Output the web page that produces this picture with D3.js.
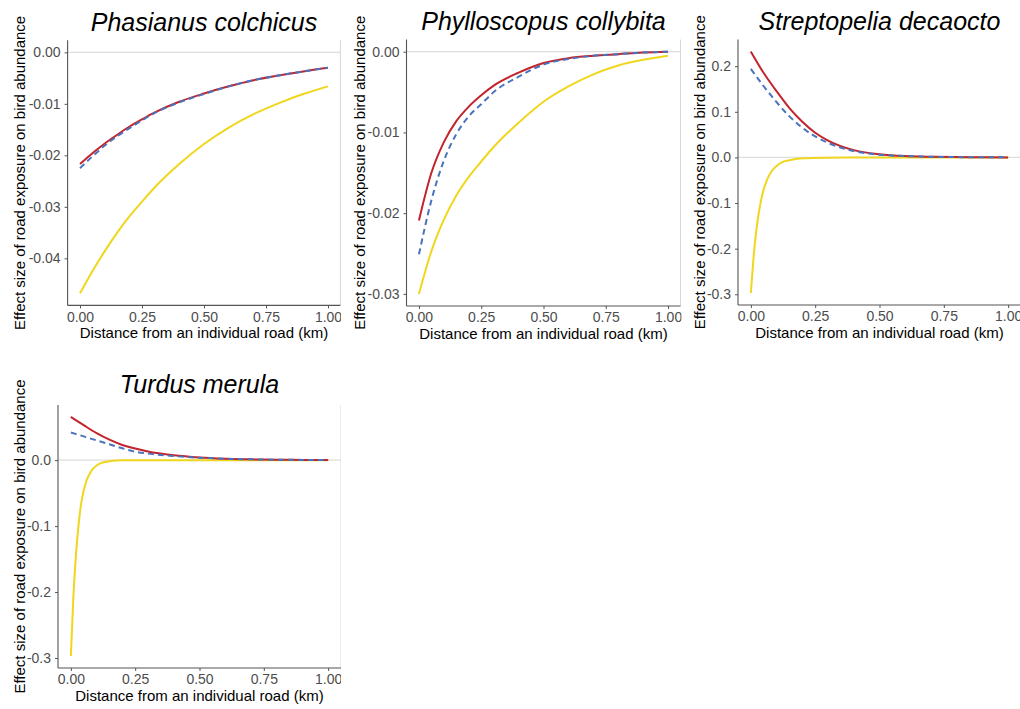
<!DOCTYPE html>
<html>
<head>
<meta charset="utf-8">
<script src="https://cdn.jsdelivr.net/npm/d3@7"></script>
<style>
  html, body { margin: 0; padding: 0; background: #ffffff; }
  svg { display: block; }
</style>
</head>
<body>
<svg id="chart" width="1020" height="709"></svg>
<script>
// ---------------- DATA ----------------
const speciesNames = ["Phasianus colchicus", "Phylloscopus collybita", "Streptopelia decaocto", "Turdus merula"];

// distances (km) at which values were read
const distance = [0, 0.05, 0.1, 0.15, 0.2, 0.25, 0.3, 0.4, 0.5, 0.6, 0.7, 0.8, 0.9, 1.0];
const distanceFine = [0, 0.01, 0.02, 0.03, 0.04, 0.05, 0.06, 0.08, 0.1, 0.12, 0.15, 0.2, 0.25, 0.3, 0.4, 0.5, 0.75, 1.0];

// Phasianus colchicus
const phasRed    = [-0.0217, -0.0196, -0.0177, -0.0160, -0.0144, -0.0130, -0.0117, -0.0096, -0.0080, -0.0066, -0.0054, -0.0045, -0.0037, -0.0030];
const phasBlue   = [-0.0225, -0.0202, -0.0181, -0.0163, -0.0147, -0.0132, -0.0118, -0.0097, -0.0081, -0.0066, -0.0054, -0.0045, -0.0037, -0.0030];
const phasYellow = [-0.0468, -0.0425, -0.0386, -0.0350, -0.0318, -0.0290, -0.0263, -0.0217, -0.0178, -0.0146, -0.0120, -0.0099, -0.0081, -0.0066];

// Phylloscopus collybita
const phylRed    = [-0.0209, -0.0150, -0.0112, -0.0086, -0.0068, -0.0054, -0.0042, -0.0026, -0.0014, -0.0008, -0.0005, -0.0003, -0.0001, 0.0000];
const phylBlue   = [-0.0251, -0.0184, -0.0135, -0.0102, -0.0080, -0.0065, -0.0050, -0.0031, -0.0016, -0.0009, -0.0005, -0.0003, -0.0001, 0.0000];
const phylYellow = [-0.0300, -0.0247, -0.0208, -0.0178, -0.0155, -0.0136, -0.0118, -0.0088, -0.0062, -0.0043, -0.0028, -0.0017, -0.0010, -0.0005];

// Streptopelia decaocto
const strepRed    = [0.232, 0.185, 0.145, 0.108, 0.078, 0.054, 0.037, 0.016, 0.007, 0.003, 0.0015, 0.0007, 0.0003, 0.0001];
const strepBlue   = [0.194, 0.156, 0.121, 0.090, 0.065, 0.046, 0.032, 0.014, 0.006, 0.003, 0.0015, 0.0007, 0.0003, 0.0001];
const strepYellow = [-0.297, -0.222, -0.166, -0.124, -0.093, -0.070, -0.053, -0.031, -0.019, -0.011, -0.006, -0.002, -0.001, -0.0005, -0.0002, 0, 0, 0];

// Turdus merula
const turdRed    = [0.0655, 0.053, 0.041, 0.031, 0.023, 0.0177, 0.013, 0.0073, 0.0040, 0.0022, 0.0012, 0.0007, 0.0004, 0.0002];
const turdBlue   = [0.042, 0.036, 0.030, 0.024, 0.018, 0.0128, 0.0099, 0.0062, 0.0037, 0.0022, 0.0012, 0.0007, 0.0004, 0.0002];
const turdYellow = [-0.297, -0.205, -0.142, -0.098, -0.066, -0.046, -0.032, -0.016, -0.008, -0.004, -0.0015, -0.0003, -0.0001, 0, 0, 0, 0, 0];

// tick labels
const xTicks = [0, 0.25, 0.5, 0.75, 1.0];
const phasYTicks  = [0, -0.01, -0.02, -0.03, -0.04];
const phylYTicks  = [0, -0.01, -0.02, -0.03];
const strepYTicks = [0.2, 0.1, 0, -0.1, -0.2, -0.3];
const turdYTicks  = [0, -0.1, -0.2, -0.3];

const xLabel = "Distance from an individual road (km)";
const yLabel = "Effect size of road exposure on bird abundance";

// ---------------- STYLE / LAYOUT ----------------
const colRed = "#c3242b", colBlue = "#4a73bb", colYellow = "#f0d61c";
const locale = d3.formatLocale({decimal: ".", thousands: ",", grouping: [3], currency: ["", ""], minus: "-"});

const panels = [
  {title: speciesNames[0], red: phasRed, blue: phasBlue, yellow: phasYellow, yX: distance, yTicks: phasYTicks, fmt: ".2f",
   x0: 67.6, x1: 340.4, y0: 40.3, y1: 305.4, clipL: 0, clipR: 341, yLabX: 25, titleY: 30.5},
  {title: speciesNames[1], red: phylRed, blue: phylBlue, yellow: phylYellow, yX: distance, yTicks: phylYTicks, fmt: ".2f",
   x0: 406.5, x1: 680.5, y0: 39.6, y1: 306, clipL: 341, clipR: 681.5, yLabX: 365, titleY: 29.5},
  {title: speciesNames[2], red: strepRed, blue: strepBlue, yellow: strepYellow, yX: distanceFine, yTicks: strepYTicks, fmt: ".1f",
   x0: 738, x1: 1021, y0: 39.5, y1: 305, clipL: 681.5, clipR: 1020, yLabX: 705, titleY: 29.5},
  {title: speciesNames[3], red: turdRed, blue: turdBlue, yellow: turdYellow, yX: distanceFine, yTicks: turdYTicks, fmt: ".1f",
   x0: 58, x1: 341, y0: 405, y1: 668, clipL: 0, clipR: 341, yLabX: 25, titleY: 393.3}
];

const svg = d3.select("#chart");
const font = "'Liberation Sans', Arial, sans-serif";

panels.forEach((p, i) => {
  const clipId = "clip" + i;
  svg.append("clipPath").attr("id", clipId)
    .append("rect").attr("x", p.clipL).attr("y", p.y0 - 45).attr("width", p.clipR - p.clipL).attr("height", 365);
  const g = svg.append("g").attr("clip-path", `url(#${clipId})`);

  const allVals = p.red.concat(p.blue, p.yellow, [0]);
  const lo = d3.min(allVals), hi = d3.max(allVals);
  const pad = (hi - lo) * 0.05;
  const x = d3.scaleLinear().domain([-0.05, 1.05]).range([p.x0, p.x1]);
  const y = d3.scaleLinear().domain([lo - pad, hi + pad]).range([p.y1, p.y0]);

  // zero reference line
  g.append("line").attr("x1", p.x0).attr("x2", p.x1).attr("y1", y(0)).attr("y2", y(0))
    .attr("stroke", "#dedede").attr("stroke-width", 1.2);

  // right edge line
  g.append("line").attr("x1", p.x1).attr("x2", p.x1).attr("y1", p.y0).attr("y2", p.y1)
    .attr("stroke", "#d6d6d6").attr("stroke-width", 1);

  const line = d3.line().curve(d3.curveMonotoneX).x(d => x(d[0])).y(d => y(d[1]));
  const plot = g.append("g");
  plot.append("path").datum(p.yX.map((d, k) => [d, p.yellow[k]]))
    .attr("d", line).attr("fill", "none").attr("stroke", colYellow).attr("stroke-width", 2);
  plot.append("path").datum(distance.map((d, k) => [d, p.red[k]]))
    .attr("d", line).attr("fill", "none").attr("stroke", colRed).attr("stroke-width", 2);
  plot.append("path").datum(distance.map((d, k) => [d, p.blue[k]]))
    .attr("d", line).attr("fill", "none").attr("stroke", colBlue).attr("stroke-width", 2)
    .attr("stroke-dasharray", "6,4");

  // axes
  const xAxis = d3.axisBottom(x).tickValues(xTicks).tickFormat(locale.format(".2f")).tickSize(3).tickPadding(3.4);
  const yAxis = d3.axisLeft(y).tickValues(p.yTicks).tickFormat(locale.format(p.fmt)).tickSize(3).tickPadding(4);
  const gx = g.append("g").attr("transform", `translate(0,${p.y1})`).call(xAxis);
  const gy = g.append("g").attr("transform", `translate(${p.x0},0)`).call(yAxis);
  [gx, gy].forEach(ax => {
    ax.select(".domain").attr("stroke", "#555555").attr("stroke-width", 1.1);
    ax.selectAll(".tick line").attr("stroke", "#555555").attr("stroke-width", 1);
    ax.selectAll(".tick text").attr("fill", "#4d4d4d").style("font-family", font).style("font-size", "14px");
  });
  gx.select(".domain").attr("d", `M${p.x0},0H${p.x1}`);
  gy.select(".domain").attr("d", `M0,${p.y0}V${p.y1}`);

  // title
  g.append("text").attr("x", (p.x0 + p.x1) / 2).attr("y", p.titleY)
    .attr("text-anchor", "middle").style("font-family", font).style("font-style", "italic")
    .style("font-size", "25px").attr("fill", "#000").text(p.title);

  // x label
  g.append("text").attr("x", (p.x0 + p.x1) / 2).attr("y", p.y1 + 32.6)
    .attr("text-anchor", "middle").style("font-family", font).style("font-size", "15px")
    .attr("fill", "#000").text(xLabel);

  // y label
  g.append("text").attr("transform", `translate(${p.yLabX},${(p.y0 + p.y1) / 2}) rotate(-90)`)
    .attr("text-anchor", "middle").style("font-family", font).style("font-size", "15px")
    .attr("fill", "#000").text(yLabel);
});
</script>
</body>
</html>
